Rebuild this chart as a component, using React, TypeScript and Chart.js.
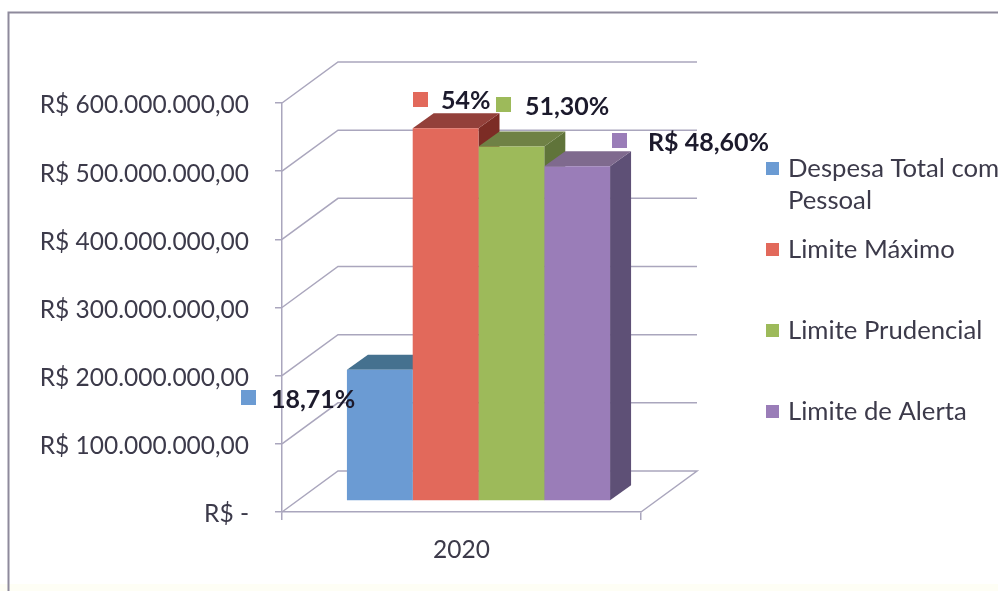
import React, { useEffect, useRef } from "react";
import { Chart, registerables } from "chart.js";

Chart.register(...registerables);

const categories = ["2020"];
const seriesNames = ["Despesa Total com Pessoal", "Limite Máximo", "Limite Prudencial", "Limite de Alerta"];
const despesaTotal = [192600000];
const limiteMaximo = [547000000];
const limitePrudencial = [520000000];
const limiteAlerta = [491000000];
const percentLabels = ["18,71%", "54%", "51,30%", "R$ 48,60%"];

const FONT = "Lato";
const TEXT_SIZE = 24.5;
const LEGEND_SIZE = 25.7;
const BOLD_SIZE = 25;
const front = ["#6b9bd3", "#e2695b", "#9dba5a", "#9a7db8"];
const topFace = ["#45718f", "#93403a", "#6f8145", "#7f6a8e"];
const sideFace = ["#3f6480", "#7c2c25", "#60743a", "#5e5076"];
const GRID = "#aaa6bd";
const INK = "#3c3a4a";

const PLANE = { dx: 17, dy: -11 };
const DEPTH = { dx: 21, dy: -15 };
const WALL = { dx: 56, dy: -41 };

const brl = (v: number) => {
  if (v === 0) return "R$ -";
  return "R$ " + v.toLocaleString("de-DE", { minimumFractionDigits: 2, maximumFractionDigits: 2 });
};

const labelSpots = [
  { sx: 241, sy: 390, tx: 271, ty: 400 },
  { sx: 413, sy: 92, tx: 441, ty: 101 },
  { sx: 496, sy: 97, tx: 525, ty: 107 },
  { sx: 612, sy: 133, tx: 648, ty: 143 },
];
const legendSpots = [168, 249, 330, 411];

const poly = (ctx: CanvasRenderingContext2D, pts: number[][], fill: string) => {
  ctx.beginPath();
  pts.forEach(([x, y], i) => (i ? ctx.lineTo(x, y) : ctx.moveTo(x, y)));
  ctx.closePath();
  ctx.fillStyle = fill;
  ctx.fill();
};

const framePlugin = {
  id: "frame3d",
  beforeDraw(chart: any) {
    const { ctx, scales } = chart;
    const y = scales.y;
    const l = chart.chartArea.left;
    const r = chart.chartArea.right;
    ctx.save();
    ctx.fillStyle = "#fff";
    ctx.fillRect(0, 0, chart.width, chart.height);
    ctx.fillStyle = "#fefef5";
    ctx.fillRect(0, 584, chart.width, 7);
    ctx.strokeStyle = "#8e8a9c";
    ctx.lineWidth = 2;
    ctx.beginPath();
    ctx.moveTo(8.5, 591);
    ctx.lineTo(8.5, 12.5);
    ctx.lineTo(998, 12.5);
    ctx.stroke();
    ctx.strokeStyle = GRID;
    ctx.lineWidth = 1.5;
    y.ticks.forEach((t: any) => {
      const py = y.getPixelForValue(t.value);
      ctx.beginPath();
      ctx.moveTo(l, py);
      ctx.lineTo(l + WALL.dx, py + WALL.dy);
      ctx.lineTo(r + WALL.dx, py + WALL.dy);
      if (t.value === 0) {
        ctx.lineTo(r, py);
      }
      ctx.stroke();
    });
    ctx.restore();
  },
  beforeDatasetsDraw(chart: any) {
    const { ctx } = chart;
    ctx.save();
    ctx.translate(PLANE.dx, PLANE.dy);
    seriesNames.forEach((_, idx) => {
      const bar = chart.getDatasetMeta(idx).data[0];
      const p = bar.getProps(["x", "y", "base", "width"], true);
      const x0 = p.x - p.width / 2;
      const x1 = p.x + p.width / 2;
      poly(ctx, [[x1, p.y], [x1 + DEPTH.dx, p.y + DEPTH.dy], [x1 + DEPTH.dx, p.base + DEPTH.dy], [x1, p.base]], sideFace[idx]);
      poly(ctx, [[x0, p.y], [x0 + DEPTH.dx, p.y + DEPTH.dy], [x1 + DEPTH.dx, p.y + DEPTH.dy], [x1, p.y]], topFace[idx]);
    });
  },
  afterDatasetsDraw(chart: any) {
    chart.ctx.restore();
  },
  afterDraw(chart: any) {
    const { ctx } = chart;
    ctx.save();
    ctx.textBaseline = "middle";
    ctx.textAlign = "left";
    seriesNames.forEach((name, i) => {
      const s = labelSpots[i];
      ctx.fillStyle = front[i];
      ctx.fillRect(s.sx, s.sy, 15, 15);
      ctx.fillStyle = "#1c1a2c";
      ctx.font = `bold ${BOLD_SIZE}px ${FONT}`;
      ctx.fillText(percentLabels[i], s.tx, s.ty);

      const ly = legendSpots[i];
      ctx.fillStyle = front[i];
      ctx.fillRect(766, ly - 6, 13, 13);
      ctx.fillStyle = INK;
      ctx.font = `${LEGEND_SIZE}px ${FONT}`;
      if (i === 0) {
        ctx.fillText("Despesa Total com", 788, ly + 1);
        ctx.fillText("Pessoal", 788, ly + 33);
      } else {
        ctx.fillText(name, 788, ly + 1);
      }
    });
    ctx.restore();
  },
};

export default function App() {
  const ref = useRef<HTMLCanvasElement>(null);
  useEffect(() => {
    document.body.style.margin = "0";
    const series = [despesaTotal, limiteMaximo, limitePrudencial, limiteAlerta];
    const chart = new Chart(ref.current!, {
      type: "bar",
      data: {
        labels: categories,
        datasets: series.map((d, i) => ({
          label: seriesNames[i],
          data: d,
          backgroundColor: front[i],
          categoryPercentage: 0.733,
          barPercentage: 1,
        })),
      },
      plugins: [framePlugin],
      options: {
        animation: false,
        responsive: false,
        layout: { padding: { left: 0, top: 103, right: 357, bottom: 0 } },
        plugins: { legend: { display: false }, tooltip: { enabled: false } },
        scales: {
          x: {
            afterFit: (s: any) => { s.height = 79; },
            grid: { drawOnChartArea: false, color: GRID, tickLength: 8, lineWidth: 1.5 },
            border: { color: GRID, width: 1.5 },
            ticks: { color: INK, padding: 15, font: { family: FONT, size: TEXT_SIZE } },
          },
          y: {
            min: 0,
            max: 600000000,
            afterFit: (s: any) => { s.width = 282; },
            grid: { drawOnChartArea: false, color: GRID, tickLength: 7, lineWidth: 1.5 },
            border: { color: GRID, width: 1.5 },
            ticks: {
              stepSize: 100000000,
              color: INK,
              padding: 26,
              font: { family: FONT, size: TEXT_SIZE, lineHeight: "5px" },
              callback: (v: any) => ["", brl(Number(v))],
            },
          },
        },
      },
    } as any);
    return () => chart.destroy();
  }, []);
  return <canvas ref={ref} width={998} height={591} style={{ display: "block", width: 998, height: 591, filter: "blur(0.5px)" }} />;
}
